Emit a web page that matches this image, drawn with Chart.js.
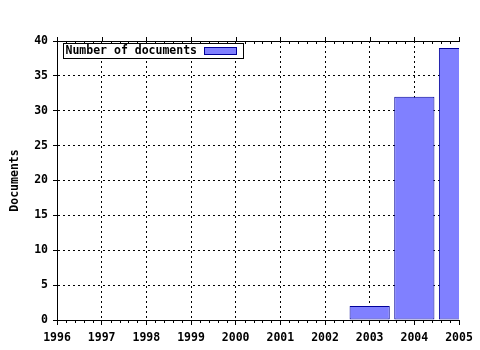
<!DOCTYPE html>
<html>
<head>
    <title>Documents per year</title>
    <script src="https://cdn.jsdelivr.net/npm/chart.js"></script>
    <style>
        body {
            margin: 0;
            padding: 0;
            background-color: #fff;
        }
        #wrap {
            width: 480px;
            height: 350px;
        }
    </style>
</head>
<body>
    <div id="wrap">
        <canvas id="myChart" width="480" height="350"></canvas>
    </div>
    <script>
        // data
        var years = [2003, 2004, 2005];
        var docs = [2, 32, 39];
        var seriesLabel = 'Number of documents';
        var yTitle = 'Documents';
        var xMin = 1996, xMax = 2005;
        var yMin = 0, yMax = 40, yStep = 5;

        var FONT = 'DejaVu Sans Mono';
        var FSIZE = 11.5;
        var barFill = '#8080ff';
        var barLine = '#000099';

        var points = [];
        for (var i = 0; i < years.length; i++) {
            points.push({ x: years[i], y: docs[i] });
        }

        // top axis line, minor ticks and the boxed legend
        var extras = {
            id: 'extras',
            afterDraw: function (chart) {
                var ctx = chart.ctx;
                var area = chart.chartArea;
                var xs = chart.scales.x;
                ctx.save();
                ctx.strokeStyle = '#000';
                ctx.lineWidth = 1;
                ctx.beginPath();
                ctx.moveTo(area.left, Math.round(area.top) + 0.5);
                ctx.lineTo(area.right + 1, Math.round(area.top) + 0.5);
                for (var v = xMin; v <= xMax + 0.001; v += 0.2) {
                    var px = Math.round(xs.getPixelForValue(v)) + 0.5;
                    var major = Math.abs(v - Math.round(v)) < 0.01;
                    if (major) {
                        ctx.moveTo(px, area.top - 4);
                        ctx.lineTo(px, area.top);
                    } else {
                        ctx.moveTo(px, area.top);
                        ctx.lineTo(px, area.top + 3);
                        ctx.moveTo(px, area.bottom);
                        ctx.lineTo(px, area.bottom + 3);
                    }
                }
                ctx.stroke();

                // legend
                var bx = Math.round(area.left) + 6.5, by = Math.round(area.top) + 2.5;
                ctx.font = 'bold ' + FSIZE + 'px "' + FONT + '"';
                var tw = ctx.measureText(seriesLabel).width;
                var bw = Math.round(tw + 48), bh = 15;
                ctx.fillStyle = '#fff';
                ctx.fillRect(bx, by, bw, bh);
                ctx.strokeRect(bx, by, bw, bh);
                ctx.fillStyle = '#000';
                ctx.textBaseline = 'middle';
                ctx.fillText(seriesLabel, bx + 2, by + bh / 2 + 0.5);
                ctx.fillStyle = barFill;
                ctx.fillRect(bx + bw - 39, by + 4, 32, 7);
                ctx.strokeStyle = barLine;
                ctx.strokeRect(bx + bw - 39, by + 4, 32, 7);
                ctx.restore();
            }
        };

        var ctx = document.getElementById('myChart').getContext('2d');
        var myChart = new Chart(ctx, {
            type: 'bar',
            data: {
                datasets: [{
                    label: seriesLabel,
                    data: points,
                    backgroundColor: barFill,
                    borderColor: barLine,
                    borderWidth: 1,
                    borderSkipped: false,
                    barPercentage: 0.9,
                    categoryPercentage: 1.0,
                    clip: 0
                }]
            },
            options: {
                responsive: false,
                animation: false,
                layout: {
                    padding: { top: 41, right: 21, left: 0, bottom: 0 }
                },
                plugins: {
                    legend: { display: false },
                    tooltip: { enabled: false }
                },
                scales: {
                    x: {
                        type: 'linear',
                        min: xMin,
                        max: xMax,
                        offset: false,
                        afterFit: function (scale) { scale.height = 30; },
                        ticks: {
                            stepSize: 1,
                            color: '#000',
                            padding: 6,
                            maxRotation: 0,
                            autoSkip: false,
                            font: { family: FONT, size: FSIZE, weight: 'bold' },
                            callback: function (v) { return String(v); }
                        },
                        grid: {
                            offset: false,
                            color: function (c) {
                                return (c.tick && c.tick.value === xMax) ? 'rgba(0,0,0,0)' : '#000';
                            },
                            tickColor: '#000',
                            tickLength: 5,
                            tickBorderDash: [10, 0]
                        },
                        border: { color: '#000', dash: [2, 3] }
                    },
                    y: {
                        min: yMin,
                        max: yMax,
                        afterFit: function (scale) { scale.width = 57; },
                        ticks: {
                            stepSize: yStep,
                            color: '#000',
                            padding: 5,
                            font: { family: FONT, size: FSIZE, weight: 'bold' }
                        },
                        grid: {
                            color: '#000',
                            tickColor: '#000',
                            tickLength: 4,
                            tickBorderDash: [10, 0]
                        },
                        border: { color: '#000', dash: [2, 3] },
                        title: {
                            display: true,
                            text: yTitle,
                            color: '#000',
                            padding: { top: 8, bottom: 0 },
                            font: { family: FONT, size: FSIZE, weight: 'bold' }
                        }
                    }
                }
            },
            plugins: [extras]
        });
    </script>
</body>
</html>
